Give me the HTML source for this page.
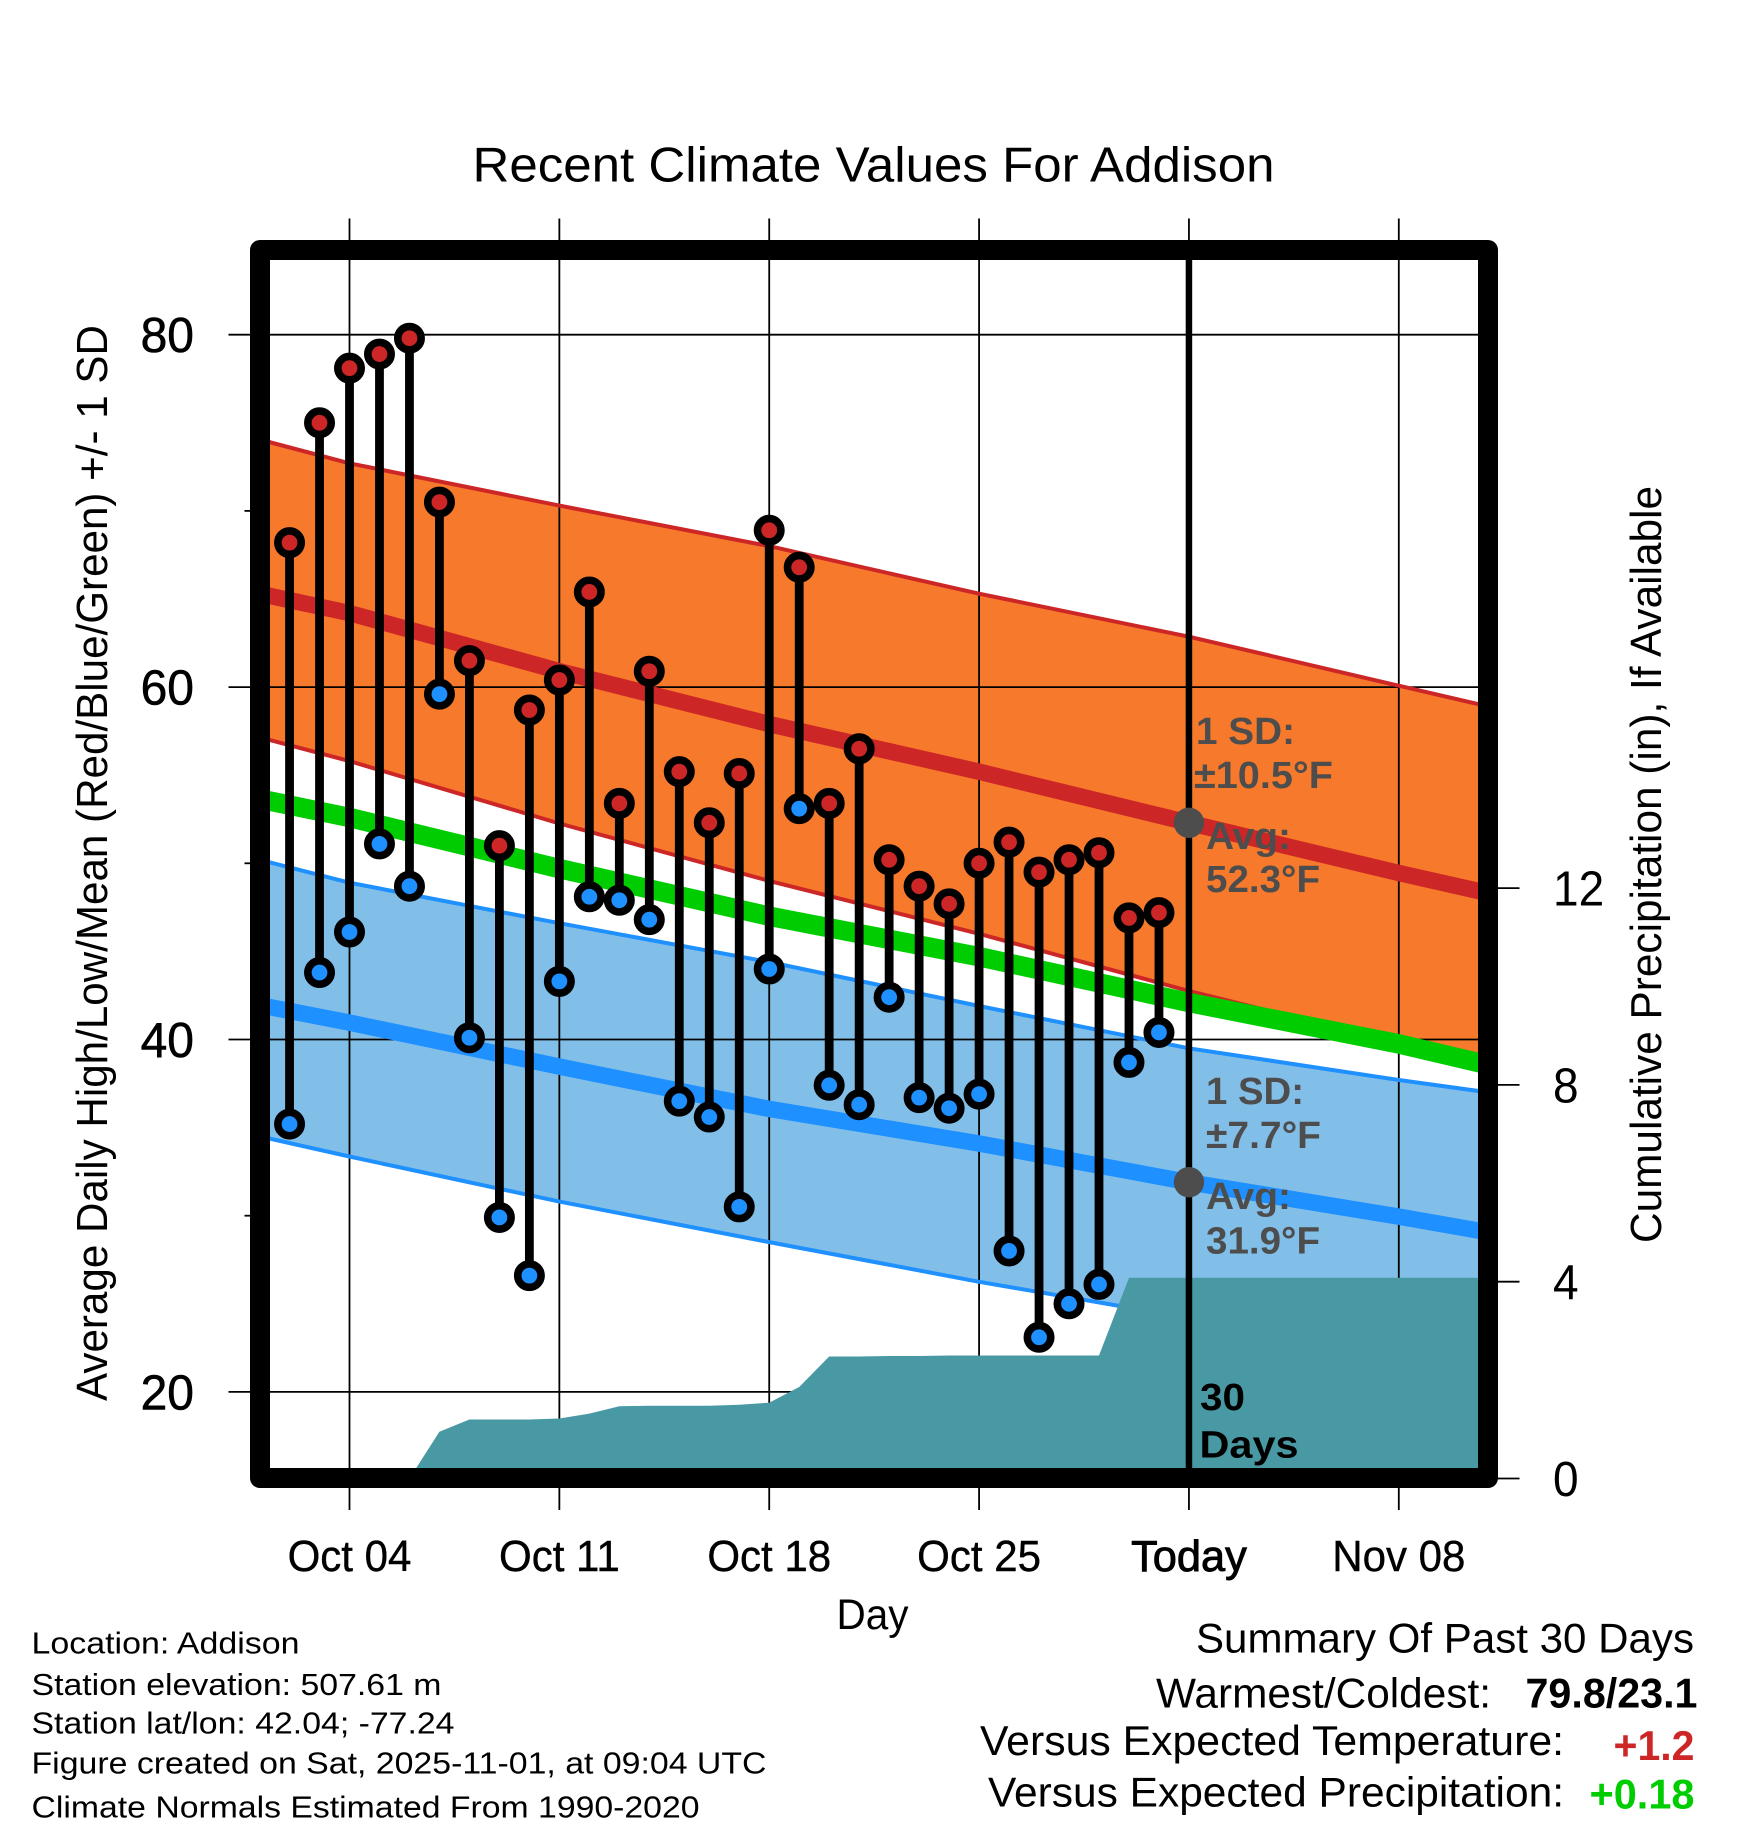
<!DOCTYPE html>
<html lang="en">
<head>
<meta charset="utf-8">
<title>Recent Climate Values For Addison</title>
<style>
html,body{margin:0;padding:0;background:#fff;}
svg{display:block;}
text{font-family:"Liberation Sans",sans-serif;fill:#000;}
.b{font-weight:bold;}
.ann{font-weight:bold;fill:#4d4d4d;font-size:38px;}
.foot{font-size:31px;}
.sum{font-size:42px;}
</style>
</head>
<body>
<svg id="chart" xmlns="http://www.w3.org/2000/svg" width="1748" height="1828" viewBox="0 0 1748 1828">
  <defs>
    <clipPath id="plot-clip"><rect x="270" y="260" width="1208" height="1208"/></clipPath>
  </defs>
  <rect x="0" y="0" width="1748" height="1828" fill="#fff"/>
  <g id="bands" clip-path="url(#plot-clip)"></g>
  <g id="grid"></g>
  <g id="lines" clip-path="url(#plot-clip)"></g>
  <g id="precip" clip-path="url(#plot-clip)"></g>
  <g id="today"></g>
  <g id="stems"></g>
  <g id="markers"></g>
  <rect x="260" y="250" width="1228" height="1228" fill="none" stroke="#000" stroke-width="20" stroke-linejoin="round"/>
  <g id="ticks"></g>

  <text x="873.5" y="181.5" font-size="49" text-anchor="middle" textLength="802" lengthAdjust="spacingAndGlyphs">Recent Climate Values For Addison</text>
  <text transform="translate(107,863) rotate(-90)" font-size="44" text-anchor="middle" textLength="1076" lengthAdjust="spacingAndGlyphs">Average Daily High/Low/Mean (Red/Blue/Green) +/- 1 SD</text>
  <text transform="translate(1661,864.5) rotate(-90)" font-size="44" text-anchor="middle" textLength="757" lengthAdjust="spacingAndGlyphs">Cumulative Precipitation (in), If Available</text>
  <text x="872.5" y="1629" font-size="43" text-anchor="middle" textLength="72" lengthAdjust="spacingAndGlyphs">Day</text>

  <text class="ann" x="1196" y="744" textLength="99" lengthAdjust="spacingAndGlyphs">1 SD:</text>
  <text class="ann" x="1194" y="788" textLength="139" lengthAdjust="spacingAndGlyphs">±10.5°F</text>
  <text class="ann" x="1206" y="849" textLength="85" lengthAdjust="spacingAndGlyphs">Avg:</text>
  <text class="ann" x="1206" y="892" textLength="114" lengthAdjust="spacingAndGlyphs">52.3°F</text>
  <text class="ann" x="1206" y="1104" textLength="98" lengthAdjust="spacingAndGlyphs">1 SD:</text>
  <text class="ann" x="1206" y="1148" textLength="115" lengthAdjust="spacingAndGlyphs">±7.7°F</text>
  <text class="ann" x="1206" y="1209" textLength="85" lengthAdjust="spacingAndGlyphs">Avg:</text>
  <text class="ann" x="1206" y="1253.5" textLength="114" lengthAdjust="spacingAndGlyphs">31.9°F</text>
  <text class="b" x="1200" y="1410" font-size="38" textLength="45" lengthAdjust="spacingAndGlyphs">30</text>
  <text class="b" x="1199.5" y="1457.5" font-size="38" textLength="99" lengthAdjust="spacingAndGlyphs">Days</text>

  <g>
    <text class="foot" x="31.5" y="1653.5" textLength="268" lengthAdjust="spacingAndGlyphs">Location: Addison</text>
    <text class="foot" x="31.5" y="1695" textLength="410" lengthAdjust="spacingAndGlyphs">Station elevation: 507.61 m</text>
    <text class="foot" x="31.5" y="1733.5" textLength="423" lengthAdjust="spacingAndGlyphs">Station lat/lon: 42.04; -77.24</text>
    <text class="foot" x="31.5" y="1773.5" textLength="735" lengthAdjust="spacingAndGlyphs">Figure created on Sat, 2025-11-01, at 09:04 UTC</text>
    <text class="foot" x="31.5" y="1817.5" textLength="668" lengthAdjust="spacingAndGlyphs">Climate Normals Estimated From 1990-2020</text>
  </g>
  <g>
    <text class="sum" x="1196" y="1652.5" textLength="498" lengthAdjust="spacingAndGlyphs">Summary Of Past 30 Days</text>
    <text class="sum" x="1156" y="1707.5" textLength="335" lengthAdjust="spacingAndGlyphs">Warmest/Coldest:</text>
    <text class="sum b" x="1525.5" y="1707.5" textLength="172" lengthAdjust="spacingAndGlyphs">79.8/23.1</text>
    <text class="sum" x="980" y="1755" textLength="584" lengthAdjust="spacingAndGlyphs">Versus Expected Temperature:</text>
    <text class="sum b" x="1613.5" y="1760" textLength="81" lengthAdjust="spacingAndGlyphs" style="fill:#cd2626">+1.2</text>
    <text class="sum" x="988" y="1806.5" textLength="576" lengthAdjust="spacingAndGlyphs">Versus Expected Precipitation:</text>
    <text class="sum b" x="1589.5" y="1808.5" textLength="105" lengthAdjust="spacingAndGlyphs" style="fill:#00cd00">+0.18</text>
  </g>
</svg>
<script>
// ---- observed daily data (October day numbers) ----
const obsDays = [2,3,4,5,6,7,8,9,10,11,12,13,14,15,16,17,18,19,20,21,22,23,24,25,26,27,28,29,30,31];
const highs = [68.2,75.0,78.1,78.9,79.8,70.5,61.5,51.0,58.7,60.4,65.4,53.4,60.9,55.2,52.3,55.1,68.9,66.8,53.4,56.5,50.2,48.7,47.7,50.0,51.2,49.5,50.2,50.6,46.9,47.2];
const lows = [35.2,43.8,46.1,51.1,48.7,59.6,40.1,29.9,26.6,43.3,48.1,47.9,46.8,36.5,35.6,30.5,44.0,53.1,37.4,36.3,42.4,36.7,36.1,36.9,28.0,23.1,25.0,26.1,38.7,40.4];
const precip = [0,0,0,0,0,0.95,1.2,1.2,1.2,1.22,1.32,1.47,1.48,1.48,1.48,1.5,1.54,1.86,2.48,2.48,2.49,2.49,2.5,2.5,2.5,2.5,2.5,2.5,4.08,4.08];

// ---- climate normals, read at these day numbers (32 = Nov 1) ----
const normalDays = [1,4,11,18,25,32,39,42];
const highAvg = [65.3,64.2,60.9,57.9,55.2,52.3,49.45,48.3];
const highUpper = [74.05,72.7,70.3,68.0,65.3,62.86,60.08,58.9];
const highLower = [57.15,55.8,52.26,49.0,46.0,42.75,39.8,38.4];
const meanAvg = [53.65,52.6,49.7,47.0,44.7,42.1,39.75,38.55];
const lowAvg = [41.95,40.96,38.46,36.06,34.1,31.9,29.95,29.05];
const lowUpper = [50.2,48.9,46.6,44.4,41.9,39.5,37.7,37.0];
const lowLower = [34.5,33.36,30.8,28.5,26.25,24.2,22.6,21.6];

// ---- ticks ----
const xTickDays = [4,11,18,25,32,39];
const xTickLabels = ["Oct 04","Oct 11","Oct 18","Oct 25","Today","Nov 08"];
const yTicks = [80,60,40,20];
const yMinorTicks = [70,50,30];
const precipTicks = [12,8,4,0];

// ---- today summary ----
const todayDay = 32;
const todayAverages = [52.3,31.9];

// ---- axis functions ----
const xAxisMaxDay = 42;
function xScale(day){ return 349.5 + (day - 4) * 29.98; }
function yScale(temp){ return 334.7 + (80 - temp) * 17.62; }
function pScale(inches){ return 1478.5 - inches * 49.2; }

const NS = 'http://www.w3.org/2000/svg';
function make(parent, tag, attrs){
  const el = document.createElementNS(NS, tag);
  for (const k in attrs) el.setAttribute(k, attrs[k]);
  parent.appendChild(el);
  return el;
}
function lineThrough(vals){
  return normalDays.map((d,i)=>xScale(d).toFixed(1)+','+yScale(vals[i]).toFixed(1)).join(' ');
}
function bandPoints(up, lo){
  const a = normalDays.map((d,i)=>xScale(d).toFixed(1)+','+yScale(up[i]).toFixed(1));
  const b = normalDays.map((d,i)=>xScale(d).toFixed(1)+','+yScale(lo[i]).toFixed(1)).reverse();
  return a.concat(b).join(' ');
}
function narrow(el, f){
  el.setAttribute('textLength', (el.getComputedTextLength()*f).toFixed(1));
  el.setAttribute('lengthAdjust', 'spacingAndGlyphs');
}

const bands = document.getElementById('bands');
const grid = document.getElementById('grid');
const lines = document.getElementById('lines');
const precipLayer = document.getElementById('precip');
const today = document.getElementById('today');
const stems = document.getElementById('stems');
const markers = document.getElementById('markers');
const ticks = document.getElementById('ticks');

// bands
const bandHigh = make(bands, 'polygon', {points: bandPoints(highUpper, highLower), fill:'#f7792b'});


const bandLow = make(bands, 'polygon', {points: bandPoints(lowUpper, lowLower), fill:'#82bfe8'});



// grid + ticks
xTickDays.forEach(function(d, i){
  const l = make(grid, 'line', {x1:xScale(d), x2:xScale(d), y1:218.5, y2:1510, stroke:'#000', 'stroke-width':1.8});
  
  
  const t = make(ticks, 'text', {x:xScale(d), y:1571, 'font-size':44, 'text-anchor':'middle', stroke:'#000', 'stroke-width':0.4});
  
  
  t.textContent = xTickLabels[i];
  if (xTickLabels[i] === 'Today') { t.setAttribute('stroke-width', '0.9'); narrow(t, 0.985); }
  else { narrow(t, 0.955); }
});
yTicks.forEach(function(v){
  const l = make(grid, 'line', {x1:228.5, x2:1478, y1:yScale(v), y2:yScale(v), stroke:'#000', 'stroke-width':1.8});
  
  
  const t = make(ticks, 'text', {x:194, y:yScale(v)+17.5, 'font-size':49, 'text-anchor':'end', stroke:'#000', 'stroke-width':0.6});
  
  
  t.textContent = String(v);
  narrow(t, 0.98);
});
yMinorTicks.forEach(function(v){
  const l = make(ticks, 'line', {x1:244.5, x2:251, y1:yScale(v), y2:yScale(v), stroke:'#000', 'stroke-width':1.8});
  
  
});
precipTicks.forEach(function(v){
  const l = make(ticks, 'line', {x1:1497, x2:1519.5, y1:pScale(v), y2:pScale(v), stroke:'#000', 'stroke-width':1.8});
  
  
  const t = make(ticks, 'text', {x:1553, y:pScale(v)+17.5, 'font-size':49});
  
  
  t.textContent = String(v);
  narrow(t, 0.94);
});

// normal lines
const edgeHU = make(lines, 'polyline', {points: lineThrough(highUpper), fill:'none', stroke:'#cd2626', 'stroke-width':4});


const edgeHL = make(lines, 'polyline', {points: lineThrough(highLower), fill:'none', stroke:'#cd2626', 'stroke-width':4});


const edgeLU = make(lines, 'polyline', {points: lineThrough(lowUpper), fill:'none', stroke:'#1e90ff', 'stroke-width':4});


const edgeLL = make(lines, 'polyline', {points: lineThrough(lowLower), fill:'none', stroke:'#1e90ff', 'stroke-width':4});


const avgHigh = make(lines, 'polyline', {points: lineThrough(highAvg), fill:'none', stroke:'#cd2626', 'stroke-width':16.5});


const avgLow = make(lines, 'polyline', {points: lineThrough(lowAvg), fill:'none', stroke:'#1e90ff', 'stroke-width':16.5});


const avgMean = make(lines, 'polyline', {points: lineThrough(meanAvg), fill:'none', stroke:'#00cd00', 'stroke-width':19.5});



// precipitation area
const pPts = [xScale(obsDays[0]).toFixed(1)+','+pScale(0).toFixed(1)];
obsDays.forEach(function(d,i){ pPts.push(xScale(d).toFixed(1)+','+pScale(precip[i]).toFixed(1)); });
pPts.push(xScale(xAxisMaxDay).toFixed(1)+','+pScale(precip[precip.length-1]).toFixed(1));
pPts.push(xScale(xAxisMaxDay).toFixed(1)+','+pScale(0).toFixed(1));
const area = make(precipLayer, 'polygon', {points:pPts.join(' '), fill:'#4899a3'});



// today line
const todayLine = make(today, 'line', {x1:xScale(todayDay), x2:xScale(todayDay), y1:250, y2:1478, stroke:'#000', 'stroke-width':6.5});



// stems & markers
obsDays.forEach(function(d,i){
  const s = make(stems, 'line', {x1:xScale(d), x2:xScale(d), y1:yScale(highs[i]), y2:yScale(lows[i]), stroke:'#000', 'stroke-width':8.8});
  
  
  const h = make(markers, 'circle', {cx:xScale(d), cy:yScale(highs[i]), r:11.7, fill:'#cd2626', stroke:'#000', 'stroke-width':7.6});
  
  
  const m = make(markers, 'circle', {cx:xScale(d), cy:yScale(lows[i]), r:11.7, fill:'#1e90ff', stroke:'#000', 'stroke-width':7.6});
  
  
});
todayAverages.forEach(function(v){
  const c = make(markers, 'circle', {cx:xScale(todayDay), cy:yScale(v), r:15.2, fill:'#4d4d4d'});
  
  
});
</script>
</body>
</html>
